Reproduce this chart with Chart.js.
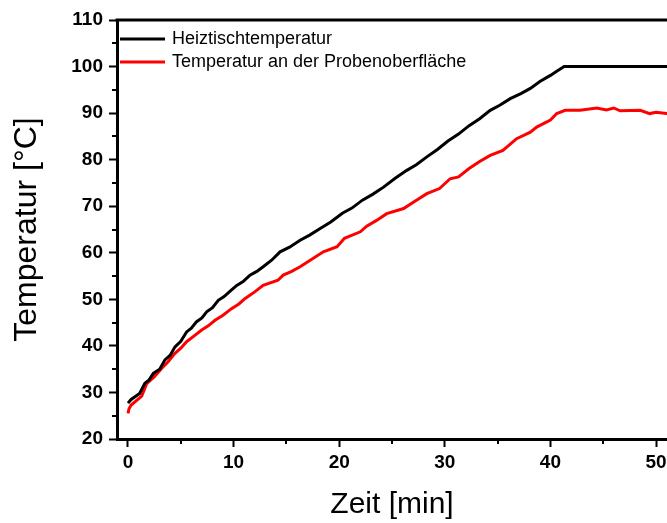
<!DOCTYPE html>
<html lang="de">
<head>
  <meta charset="UTF-8" />
  <title>Heiztisch- und Probentemperatur</title>
  <script src="https://cdn.jsdelivr.net/npm/chart.js"></script>
  <style>
    html, body {
      margin: 0;
      padding: 0;
      background: #ffffff;
    }
    #wrap {
      width: 667px;
      height: 523px;
    }
  </style>
</head>
<body>
  <div id="wrap"><canvas id="tempChart"></canvas></div>

  <script>
    // Heiztischtemperatur (black)
    const heizZeit = [0, 0.3, 1.1, 1.6, 2.0, 2.4, 3.0, 3.5, 4.0, 4.45, 5.0, 5.55, 6.0, 6.5, 7.0, 7.45, 8.0, 8.55, 9.1,
      9.7, 10.3, 10.9, 11.55, 12.2, 12.8, 13.6, 14.4, 15.3, 16.3, 17.2, 18.2, 19.2, 20.3, 21.2, 22.2, 23.2, 24.2,
      25.3, 26.4, 27.3, 28.3, 29.3, 30.3, 31.3, 32.3, 33.3, 34.3, 35.2, 36.2, 37.2, 38.1, 39.0, 40.0, 40.6, 41.3, 51.5];
    const heizTemp = [27.7, 28.5, 29.8, 32.0, 32.7, 34.1, 35.0, 37.0, 38.0, 39.8, 41.0, 43.0, 43.8, 45.2, 46.0, 47.3,
      48.2, 49.8, 50.6, 51.8, 53.0, 53.8, 55.2, 56.0, 57.0, 58.4, 60.2, 61.2, 62.7, 63.8, 65.2, 66.6, 68.5, 69.6,
      71.3, 72.6, 74.1, 76.0, 77.7, 78.9, 80.6, 82.2, 84.0, 85.5, 87.3, 88.8, 90.6, 91.7, 93.1, 94.2, 95.3, 96.8,
      98.1, 99.0, 100, 100];

    // Temperatur an der Probenoberfläche (red)
    const probeZeit = [0, 0.1, 0.3, 1.3, 1.77, 2.5, 3.2, 3.8, 4.45, 5.0, 5.55, 6.3, 6.98, 7.6, 8.24, 9.0, 9.8, 10.5,
      11.1, 12.0, 12.8, 14.2, 14.7, 15.5, 16.3, 17.4, 18.5, 19.8, 20.5, 22.0, 22.6, 23.5, 24.5, 26.1, 27.2, 28.3,
      29.5, 30.5, 31.3, 32.3, 33.3, 34.3, 35.5, 36.8, 38.1, 38.7, 40.0, 40.6, 41.4, 42.8, 44.4, 45.3, 46.0, 46.6,
      48.5, 49.4, 50.0, 51.0, 51.5];
    const probeTemp = [25.5, 26.5, 27.3, 29.2, 31.9, 33.4, 35.2, 36.6, 38.4, 39.5, 40.9, 42.2, 43.4, 44.3, 45.5,
      46.6, 48.0, 49.0, 50.2, 51.6, 53.0, 54.1, 55.2, 56.0, 57.0, 58.6, 60.2, 61.3, 63.1, 64.5, 65.7, 66.9, 68.4,
      69.5, 71.1, 72.7, 73.8, 75.9, 76.3, 78.1, 79.6, 80.9, 82.0, 84.5, 85.9, 87.0, 88.5, 89.9, 90.6, 90.6, 91.1,
      90.7, 91.1, 90.5, 90.6, 89.9, 90.2, 89.9, 89.9];

    const xTicks = [0, 10, 20, 30, 40, 50];
    const xMinor = [5, 15, 25, 35, 45];
    const yTicks = [20, 30, 40, 50, 60, 70, 80, 90, 100, 110];
    const yMinor = [25, 35, 45, 55, 65, 75, 85, 95, 105];

    const FONT = '"Liberation Sans", Arial, sans-serif';

    const toPoints = (xs, ys) => xs.map((x, i) => ({ x: x, y: ys[i] }));

    // minor ticks, top frame line and the legend inside the plot
    const decorPlugin = {
      id: 'decor',
      afterDraw(chart) {
        const ctx = chart.ctx;
        const area = chart.chartArea;
        const xs = chart.scales.x, ys = chart.scales.y;
        ctx.save();
        ctx.strokeStyle = '#000';
        ctx.lineWidth = 2;
        xMinor.forEach(v => {
          const px = Math.round(xs.getPixelForValue(v));
          ctx.beginPath();
          ctx.moveTo(px, area.bottom);
          ctx.lineTo(px, area.bottom + 5);
          ctx.stroke();
        });
        yMinor.forEach(v => {
          const py = Math.round(ys.getPixelForValue(v));
          ctx.beginPath();
          ctx.moveTo(area.left, py);
          ctx.lineTo(area.left - 5, py);
          ctx.stroke();
        });
        // top frame
        ctx.lineWidth = 3;
        ctx.beginPath();
        ctx.moveTo(area.left - 1.5, area.top);
        ctx.lineTo(area.right, area.top);
        ctx.stroke();

        // legend
        ctx.font = '18px ' + FONT;
        ctx.textBaseline = 'middle';
        ctx.textAlign = 'left';
        chart.data.datasets.forEach((ds, i) => {
          const y = area.top + 19 + i * 23;
          ctx.strokeStyle = ds.borderColor;
          ctx.lineWidth = 3;
          ctx.beginPath();
          ctx.moveTo(area.left + 3, y);
          ctx.lineTo(area.left + 48, y);
          ctx.stroke();
          ctx.fillStyle = '#000';
          ctx.fillText(ds.label, area.left + 55, y);
        });
        ctx.restore();
      }
    };

    new Chart(document.getElementById('tempChart'), {
      type: 'scatter',
      data: {
        datasets: [
          {
            label: 'Heiztischtemperatur',
            data: toPoints(heizZeit, heizTemp),
            borderColor: '#000000',
            backgroundColor: '#000000',
            borderWidth: 3,
            showLine: true,
            pointRadius: 0,
            tension: 0
          },
          {
            label: 'Temperatur an der Probenoberfläche',
            data: toPoints(probeZeit, probeTemp),
            borderColor: '#ff0000',
            backgroundColor: '#ff0000',
            borderWidth: 3,
            showLine: true,
            pointRadius: 0,
            tension: 0
          }
        ]
      },
      options: {
        responsive: true,
        maintainAspectRatio: false,
        animation: false,
        layout: { padding: { top: 20, right: 0, bottom: 0, left: 0 } },
        plugins: {
          legend: { display: false },
          tooltip: { enabled: false }
        },
        scales: {
          x: {
            type: 'linear',
            min: -1.04,
            max: 51.04,
            afterBuildTicks: s => { s.ticks = xTicks.map(v => ({ value: v })); },
            afterFit: s => { s.height = 84; s.paddingRight = 0; s.paddingLeft = 0; },
            ticks: {
              color: '#000',
              font: { family: FONT, size: 19, weight: 'bold' },
              padding: 4,
              maxRotation: 0
            },
            grid: {
              drawOnChartArea: false,
              drawTicks: true,
              tickLength: 8,
              tickWidth: 2,
              color: '#000'
            },
            border: { display: true, color: '#000', width: 3 },
            title: {
              display: true,
              text: 'Zeit [min]',
              color: '#000',
              font: { family: FONT, size: 30 },
              padding: { top: 4, bottom: 0 }
            }
          },
          y: {
            min: 20,
            max: 110,
            afterBuildTicks: s => { s.ticks = yTicks.map(v => ({ value: v })); },
            afterFit: s => { s.width = 117; },
            ticks: {
              color: '#000',
              font: { family: FONT, size: 19, weight: 'bold' },
              padding: 6
            },
            grid: {
              drawOnChartArea: false,
              drawTicks: true,
              tickLength: 8,
              tickWidth: 2,
              color: '#000'
            },
            border: { display: true, color: '#000', width: 3 },
            title: {
              display: true,
              text: 'Temperatur [°C]',
              color: '#000',
              font: { family: FONT, size: 32 },
              padding: { top: 8, bottom: 0 }
            }
          }
        }
      },
      plugins: [decorPlugin]
    });
  </script>
</body>
</html>
